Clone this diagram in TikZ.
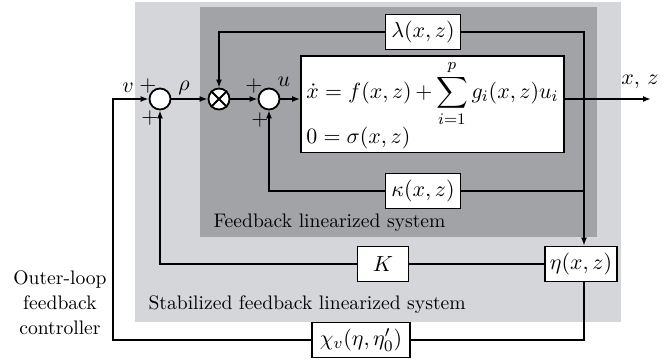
\documentclass[tikz,border=0pt]{standalone}
\usepackage{amsmath}
\usepackage{amsfonts}
\usetikzlibrary{arrows.meta}

\definecolor{outergray}{RGB}{213,214,217}
\definecolor{innergray}{RGB}{161,163,166}

\begin{document}
\begin{tikzpicture}[x=0.5pt,y=-0.5pt,font=\fontsize{11}{12.5}\selectfont,
    line width=0.9pt,>={Latex[length=4pt,width=3pt]},
    blk/.style={draw,fill=white,minimum height=17.5pt,inner sep=2pt},
    junc/.style={draw,fill=white,circle,minimum size=10.5pt,inner sep=0pt},
    lbl/.style={font=\fontsize{9.8}{12.5}\selectfont},
    sgn/.style={inner sep=0pt}]
    \useasboundingbox (0,0) rectangle (671,362);
    \fill[outergray] (135,2) rectangle (621,322);
    \fill[innergray] (200,7) rectangle (597,237);
    \node[lbl,anchor=base west] (fls) at (206,228) {Feedback linearized system};
    \node[lbl,anchor=base west] (sfls) at (141,310) {Stabilized feedback linearized system};
    \node[lbl,align=center] (olc) at (60,303) {Outer-loop\\feedback\\controller};

    \node[junc] (s1) at (160,99) {};
    \node[junc] (mul) at (219,99) {};
    \draw (mul.45) -- (mul.225) (mul.135) -- (mul.315);
    \node[junc] (s2) at (269,99) {};
    \node[draw,fill=white,minimum width=131.5pt,minimum height=44.5pt,
      text width=126pt,align=left,inner sep=2pt] (sys) at (432.5,104.5)
      {$\displaystyle\dot{x}=f(x,z)+\sum_{i=1}^{p}g_i(x,z)u_i$\\[-1pt]$0=\sigma(x,z)$};
    \node[blk,minimum width=37.5pt] (lam) at (423,32) {$\lambda(x,z)$};
    \node[blk,minimum width=37.5pt] (kap) at (423,191) {$\kappa(x,z)$};
    \node[blk,minimum width=25.5pt] (K) at (383,264) {$K$};
    \node[blk,minimum width=36pt] (eta) at (581,264) {$\eta(x,z)$};
    \node[blk,minimum width=49pt] (chi) at (361,340) {$\chi_v(\eta,\eta_0')$};
    \coordinate (out) at (651,99);
    \coordinate (tap) at (584,99);
    \node (xz) at (640,82) {$x,\,z$};

    \draw[->] (s1) -- (mul);
    \draw[->] (mul) -- (s2);
    \draw[->] (s2) -- (sys.west |- s2);
    \draw[->] (sys.east |- out) -- (out);
    \draw (lam.east) -| (tap);
    \draw[->] (lam.west) -| (mul.north);
    \draw (kap.east) -| (tap);
    \draw[->] (kap.west) -| (s2.south);
    \draw[->] (tap) -- (eta.north -| tap);
    \draw (eta.west) -- (K.east);
    \draw[->] (K.west) -| (s1.south);
    \draw (eta.south -| tap) |- (chi.east);
    \draw[->] (chi.west) -| (113,99) -- (s1.west);

    \node (v) at (128,88) {$v$};
    \node (rho) at (184,88) {$\rho$};
    \node[inner sep=1pt] (u) at (284,82) {$u$};
    \node[sgn] (p1) at (148,86) {$+$};
    \node[sgn] (p2) at (150,118) {$+$};
    \node[sgn] (p3) at (254,86) {$+$};
    \node[sgn] (p4) at (260,120) {$+$};
  \end{tikzpicture}
\end{document}
